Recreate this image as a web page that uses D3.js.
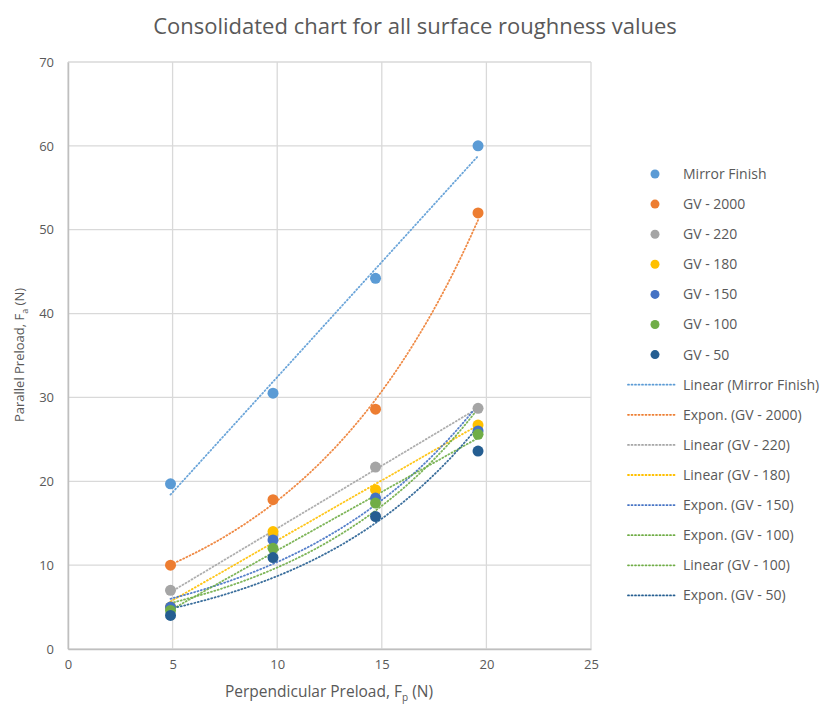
<!DOCTYPE html>
<html><head><meta charset="utf-8">
<script src="https://cdn.jsdelivr.net/npm/d3@7"></script>
<style>
body{margin:0;background:#fff;}
text{font-family:"Open Sans",sans-serif;fill:#595959;}
</style></head>
<body><svg id="c" width="830" height="707"></svg>
<script>
const xValues = [4.9, 9.8, 14.7, 19.6];
const seriesNames = ["Mirror Finish","GV - 2000","GV - 220","GV - 180","GV - 150","GV - 100","GV - 50"];
const seriesColors = ["#5B9BD5","#ED7D31","#A5A5A5","#FFC000","#4472C4","#70AD47","#255E91"];
const mirrorFinish = [19.7, 30.5, 44.2, 60.0];
const gv2000 = [10.0, 17.8, 28.6, 52.0];
const gv220 = [7.0, 13.6, 21.7, 28.7];
const gv180 = [5.0, 14.0, 19.0, 26.7];
const gv150 = [5.0, 13.0, 18.0, 26.0];
const gv100 = [4.6, 12.0, 17.4, 25.6];
const gv50 = [4.0, 10.9, 15.8, 23.6];
const seriesValues = [mirrorFinish, gv2000, gv220, gv180, gv150, gv100, gv50];
// trendlines: [series index, type]
const trendSeries = [0,1,2,3,4,5,5,6];
const trendTypes = ["Linear","Expon.","Linear","Linear","Expon.","Expon.","Linear","Expon."];
const xTicks = [0,5,10,15,20,25];
const yTicks = [0,10,20,30,40,50,60,70];

const svg = d3.select("#c");
const L=68, R=591, T=62, B=649;
const x = d3.scaleLinear().domain([0,25]).range([L,R]);
const y = d3.scaleLinear().domain([0,70]).range([B,T]);

// gridlines
svg.append("g").selectAll("line").data(yTicks).join("line")
  .attr("x1",L).attr("x2",R).attr("y1",d=>y(d)).attr("y2",d=>y(d))
  .attr("stroke","#d9d9d9").attr("stroke-width",1.3);
svg.append("g").selectAll("line").data(xTicks).join("line")
  .attr("x1",d=>x(d)).attr("x2",d=>x(d)).attr("y1",T).attr("y2",B)
  .attr("stroke","#d9d9d9").attr("stroke-width",1.3);

// axes
const xa = svg.append("g").attr("transform",`translate(0,${B})`)
  .call(d3.axisBottom(x).tickValues(xTicks).tickSize(0).tickPadding(11));
xa.select(".domain").attr("stroke","#bfbfbf").attr("stroke-width",1.5);
xa.selectAll("text").style("font-size","13px").style("fill","#595959");
const ya = svg.append("g").attr("transform",`translate(${L},0)`)
  .call(d3.axisLeft(y).tickValues(yTicks).tickSize(0).tickPadding(14));
ya.select(".domain").attr("stroke","#bfbfbf").attr("stroke-width",1.5);
ya.selectAll("text").style("font-size","13px").style("fill","#595959");

// titles
svg.append("text").attr("x",415).attr("y",34).attr("text-anchor","middle")
  .style("font-size","22px").text("Consolidated chart for all surface roughness values");
const xt = svg.append("text").attr("x",329).attr("y",697).attr("text-anchor","middle").style("font-size","15.5px");
xt.append("tspan").text("Perpendicular Preload, F");
xt.append("tspan").attr("dy",4).style("font-size","10px").text("p");
xt.append("tspan").attr("dy",-4).text(" (N)");
const yt = svg.append("text").attr("transform","translate(24,355) rotate(-90)").attr("text-anchor","middle").style("font-size","13px");
yt.append("tspan").text("Parallel Preload, F");
yt.append("tspan").attr("dy",4).style("font-size","9px").text("a");
yt.append("tspan").attr("dy",-4).text(" (N)");

// trendlines
function fit(vals, type){
  const ys = type==="Linear" ? vals : vals.map(Math.log);
  const mx = d3.mean(xValues), my = d3.mean(ys);
  let sxy=0, sxx=0;
  xValues.forEach((xv,i)=>{sxy+=(xv-mx)*(ys[i]-my); sxx+=(xv-mx)**2;});
  const b = sxy/sxx, a = my - b*mx;
  return type==="Linear" ? (t=>a+b*t) : (t=>Math.exp(a+b*t));
}
const line = d3.line().x(d=>x(d[0])).y(d=>y(d[1]));
const xs = d3.range(0,61).map(i=>xValues[0]+(xValues[3]-xValues[0])*i/60);
trendSeries.forEach((si,k)=>{
  const f = fit(seriesValues[si], trendTypes[k]);
  svg.append("path").datum(xs.map(t=>[t,f(t)])).attr("d",line)
    .attr("fill","none").attr("stroke",seriesColors[si]).attr("stroke-width",1.8)
    .attr("stroke-dasharray","1 2.5").attr("stroke-linecap","round").attr("opacity",0.9);
});

// points
seriesValues.forEach((vals,si)=>{
  svg.append("g").selectAll("circle").data(vals).join("circle")
    .attr("cx",(d,i)=>x(xValues[i])).attr("cy",d=>y(d)).attr("r",5.5)
    .attr("fill",seriesColors[si]);
});

// legend
const lg = svg.append("g");
const rowY = i => 174 + i*30.1;
seriesNames.forEach((nm,i)=>{
  lg.append("circle").attr("cx",655).attr("cy",rowY(i)).attr("r",4.5).attr("fill",seriesColors[i]);
  lg.append("text").attr("x",683).attr("y",rowY(i)).attr("dy","0.35em").style("font-size","14px").text(nm);
});
trendSeries.forEach((si,k)=>{
  const yy = rowY(7+k);
  lg.append("line").attr("x1",628).attr("x2",675).attr("y1",yy).attr("y2",yy)
    .attr("stroke",seriesColors[si]).attr("stroke-width",1.8).attr("stroke-dasharray","1 2.5").attr("stroke-linecap","round");
  lg.append("text").attr("x",683).attr("y",yy).attr("dy","0.35em").style("font-size","14px")
    .text(`${trendTypes[k]} (${seriesNames[si]})`);
});
</script></body></html>
